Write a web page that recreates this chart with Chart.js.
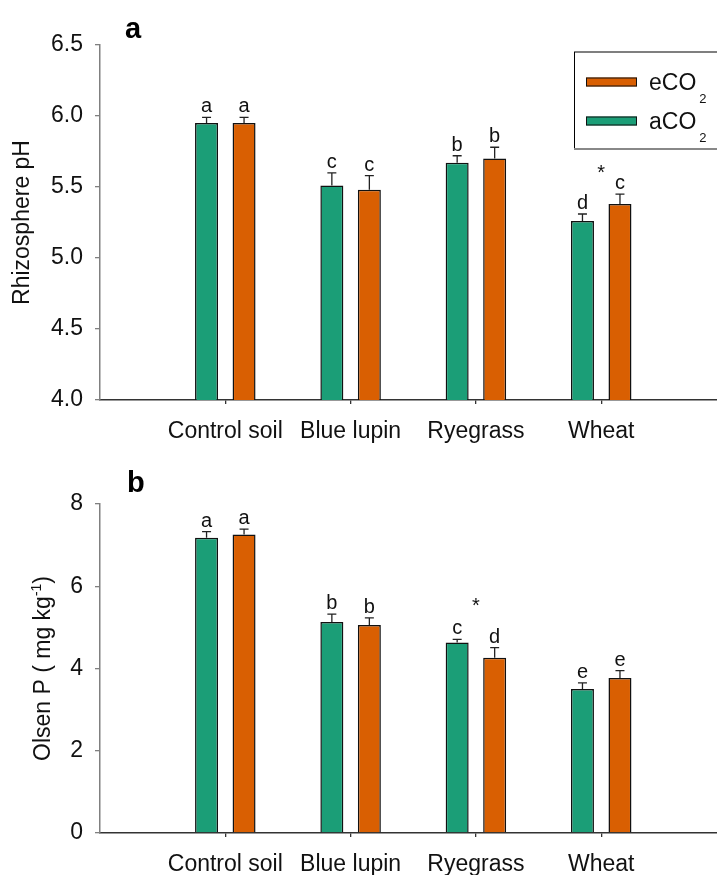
<!DOCTYPE html>
<html>
<head>
<meta charset="utf-8">
<script src="https://cdn.jsdelivr.net/npm/chart.js@4.4.1/dist/chart.umd.min.js"></script>
<style>
  html, body { margin: 0; padding: 0; background: #fff; overflow: hidden; }
  #wrap { position: relative; width: 717px; height: 875px; }
  .panel { position: absolute; left: 0; width: 717px; }
</style>
</head>
<body>
<div id="wrap">
  <div class="panel" style="top:0;height:455px"><canvas id="chartA"></canvas></div>
  <div class="panel" style="top:455px;height:420px"><canvas id="chartB"></canvas></div>
</div>
<script>
// ---- data ----
const categories = ['Control soil', 'Blue lupin', 'Ryegrass', 'Wheat'];
const seriesNames = ['aCO2', 'eCO2'];

// (a) rhizosphere pH, mean and standard error
const phAmbient = [5.95, 5.51, 5.67, 5.26];
const phAmbientErr = [0.04, 0.09, 0.05, 0.05];
const phElevated = [5.95, 5.48, 5.70, 5.38];
const phElevatedErr = [0.04, 0.10, 0.08, 0.07];
const phLettersAmbient = ['a', 'c', 'b', 'd'];
const phLettersElevated = ['a', 'c', 'b', 'c'];
const phStars = ['', '', '', '*'];
const phTicks = [4.0, 4.5, 5.0, 5.5, 6.0, 6.5];

// (b) Olsen P (mg kg-1), mean and standard error
const olsenAmbient = [7.18, 5.13, 4.63, 3.50];
const olsenAmbientErr = [0.15, 0.19, 0.08, 0.15];
const olsenElevated = [7.26, 5.06, 4.26, 3.77];
const olsenElevatedErr = [0.13, 0.17, 0.25, 0.18];
const olsenLettersAmbient = ['a', 'b', 'c', 'e'];
const olsenLettersElevated = ['a', 'b', 'd', 'e'];
const olsenStars = ['', '', '*', ''];
const olsenTicks = [0, 2, 4, 6, 8];

// ---- styling ----
const GREEN = '#1b9e77';
const ORANGE = '#d95f02';
const FONT = "'Liberation Sans', Arial, Helvetica, sans-serif";
const TEXT = '#111';
const SIZE = 23;

// error bars, significance letters and stars above each bar
const annotationPlugin = {
  id: 'errorBarsLetters',
  afterDatasetsDraw(chart) {
    const ctx = chart.ctx;
    const yScale = chart.scales.y;
    const xScale = chart.scales.x;
    const tops = categories.map(() => Infinity);
    ctx.save();
    chart.data.datasets.forEach((ds, di) => {
      const meta = chart.getDatasetMeta(di);
      meta.data.forEach((bar, i) => {
        const top = yScale.getPixelForValue(ds.data[i].y + ds.errors[i]);
        tops[i] = Math.min(tops[i], top);
        ctx.strokeStyle = '#222';
        ctx.lineWidth = 1.3;
        ctx.beginPath();
        ctx.moveTo(bar.x, bar.y);
        ctx.lineTo(bar.x, top);
        ctx.moveTo(bar.x - 4.5, top);
        ctx.lineTo(bar.x + 4.5, top);
        ctx.stroke();
        ctx.fillStyle = TEXT;
        ctx.font = `20px ${FONT}`;
        ctx.textAlign = 'center';
        ctx.textBaseline = 'alphabetic';
        ctx.fillText(ds.letters[i], bar.x, top - 5);
      });
    });
    const opts = chart.options.plugins.errorBarsLetters;
    opts.stars.forEach((s, i) => {
      if (!s) return;
      ctx.fillStyle = TEXT;
      ctx.font = `20px ${FONT}`;
      ctx.textAlign = 'center';
      ctx.textBaseline = 'middle';
      ctx.fillText(s, xScale.getPixelForValue(i + 1), tops[i] - opts.starGap);
    });
    ctx.restore();
  }
};

// bold panel letter in the upper left corner
const panelLabelPlugin = {
  id: 'panelLabel',
  afterDraw(chart) {
    const o = chart.options.plugins.panelLabel;
    const ctx = chart.ctx;
    ctx.save();
    ctx.fillStyle = '#000';
    ctx.font = `bold 29px ${FONT}`;
    ctx.textAlign = 'left';
    ctx.textBaseline = 'alphabetic';
    ctx.fillText(o.text, o.x, o.y);
    ctx.restore();
  }
};

// text with a subscript or superscript part
function drawRichText(ctx, parts, x, y) {
  let cx = x;
  parts.forEach(p => {
    ctx.font = `${p.size}px ${FONT}`;
    ctx.fillText(p.text, cx, y + (p.dy || 0));
    cx += ctx.measureText(p.text).width + (p.gap || 0);
  });
  return cx - x;
}
function measureRichText(ctx, parts) {
  let w = 0;
  parts.forEach(p => {
    ctx.font = `${p.size}px ${FONT}`;
    w += ctx.measureText(p.text).width + (p.gap || 0);
  });
  return w;
}

// boxed legend, elevated CO2 listed first
const boxLegendPlugin = {
  id: 'boxLegend',
  afterDraw(chart) {
    const o = chart.options.plugins.boxLegend;
    if (!o.show) return;
    const ctx = chart.ctx;
    ctx.save();
    ctx.fillStyle = '#fff';
    ctx.fillRect(o.left, o.top, 200, o.bottom - o.top);
    ctx.strokeStyle = '#000';
    ctx.lineWidth = 1;
    ctx.strokeRect(o.left + 0.5, o.top + 0.5, 200, o.bottom - o.top);
    ctx.strokeStyle = '#888';
    ctx.lineWidth = 2;
    ctx.beginPath();
    ctx.moveTo(o.left, o.bottom);
    ctx.lineTo(o.left + 200, o.bottom);
    ctx.stroke();
    const order = [1, 0];
    order.forEach((di, row) => {
      const ds = chart.data.datasets[di];
      const cy = o.firstRow + row * o.rowGap;
      ctx.fillStyle = ds.backgroundColor;
      ctx.fillRect(o.swatchX, cy - 4.5, o.swatchW, 9);
      ctx.strokeStyle = '#111';
      ctx.lineWidth = 1;
      ctx.strokeRect(o.swatchX + 0.5, cy - 4.5 + 0.5, o.swatchW - 1, 8);
      ctx.fillStyle = TEXT;
      ctx.textAlign = 'left';
      ctx.textBaseline = 'alphabetic';
      const name = ds.label;
      drawRichText(ctx, [
        { text: name.slice(0, -1), size: SIZE, gap: 3 },
        { text: name.slice(-1), size: 13, dy: 13 }
      ], o.textX, cy + 8);
    });
    ctx.restore();
  }
};

// rotated axis title with a superscript exponent
const richTitlePlugin = {
  id: 'richTitle',
  afterDraw(chart) {
    const o = chart.options.plugins.richTitle;
    if (!o.parts) return;
    const ctx = chart.ctx;
    const area = chart.chartArea;
    ctx.save();
    ctx.translate(o.x, (area.top + area.bottom) / 2);
    ctx.rotate(-Math.PI / 2);
    ctx.fillStyle = TEXT;
    ctx.textAlign = 'left';
    ctx.textBaseline = 'alphabetic';
    const w = measureRichText(ctx, o.parts);
    drawRichText(ctx, o.parts, -w / 2, 0);
    ctx.restore();
  }
};

function buildPanel(canvasId, p) {
  const toPoints = arr => arr.map((v, i) => ({ x: i + 1, y: v }));
  return new Chart(document.getElementById(canvasId), {
    type: 'bar',
    data: {
      datasets: [
        {
          label: seriesNames[0],
          data: toPoints(p.ambient),
          errors: p.ambientErr,
          letters: p.lettersAmbient,
          backgroundColor: GREEN,
          borderColor: '#111',
          borderWidth: 1.5
        },
        {
          label: seriesNames[1],
          data: toPoints(p.elevated),
          errors: p.elevatedErr,
          letters: p.lettersElevated,
          backgroundColor: ORANGE,
          borderColor: '#111',
          borderWidth: 1.5
        }
      ]
    },
    options: {
      responsive: true,
      maintainAspectRatio: false,
      animation: false,
      events: [],
      layout: { padding: { top: p.padTop, left: 0, right: 0, bottom: 0 } },
      datasets: { bar: { categoryPercentage: 0.5986, barPercentage: 0.613 } },
      plugins: {
        legend: { display: false },
        tooltip: { enabled: false },
        errorBarsLetters: { stars: p.stars, starGap: p.starGap },
        panelLabel: { text: p.label, x: p.labelX, y: p.labelY },
        boxLegend: p.legend || { show: false },
        richTitle: p.richTitle || {}
      },
      scales: {
        x: {
          type: 'linear',
          min: 0,
          max: 4.924,
          bounds: 'data',
          offset: false,
          afterBuildTicks: s => { s.ticks = categories.map((c, i) => ({ value: i + 1 })); },
          afterFit: s => { s.height = p.xHeight; },
          grid: { display: true, offset: false, drawOnChartArea: false, drawTicks: true, tickLength: 4, color: '#333', lineWidth: 1.3 },
          border: { display: true, color: '#333', width: 1.5 },
          ticks: {
            callback: v => categories[Math.round(v) - 1] || '',
            font: { family: FONT, size: SIZE },
            color: TEXT,
            padding: 14,
            maxRotation: 0,
            autoSkip: false
          }
        },
        y: {
          min: p.yMin,
          max: p.yMax,
          afterBuildTicks: s => { s.ticks = p.ticks.map(v => ({ value: v })); },
          afterFit: s => { s.width = 100; },
          grid: { display: true, drawOnChartArea: false, drawTicks: true, tickLength: 5, color: '#808080', lineWidth: 1.3 },
          border: { display: true, color: '#808080', width: 1.5 },
          ticks: {
            callback: v => p.fmt(v),
            font: { family: FONT, size: SIZE },
            color: TEXT,
            padding: 12
          },
          title: p.yTitle
            ? { display: true, text: p.yTitle, font: { family: FONT, size: SIZE }, color: TEXT, padding: { top: 9, bottom: 0 } }
            : { display: false }
        }
      }
    },
    plugins: [annotationPlugin, panelLabelPlugin, boxLegendPlugin, richTitlePlugin]
  });
}

buildPanel('chartA', {
  ambient: phAmbient, ambientErr: phAmbientErr,
  elevated: phElevated, elevatedErr: phElevatedErr,
  lettersAmbient: phLettersAmbient, lettersElevated: phLettersElevated,
  stars: phStars, starGap: 21,
  ticks: phTicks, yMin: 4.0, yMax: 6.5, fmt: v => v.toFixed(1),
  yTitle: 'Rhizosphere pH',
  padTop: 45, xHeight: 55,
  label: 'a', labelX: 125, labelY: 38,
  legend: {
    show: true, left: 574, top: 51.5, bottom: 149,
    swatchX: 586, swatchW: 51, textX: 649,
    firstRow: 82, rowGap: 39
  }
});

buildPanel('chartB', {
  ambient: olsenAmbient, ambientErr: olsenAmbientErr,
  elevated: olsenElevated, elevatedErr: olsenElevatedErr,
  lettersAmbient: olsenLettersAmbient, lettersElevated: olsenLettersElevated,
  stars: olsenStars, starGap: 33,
  ticks: olsenTicks, yMin: 0, yMax: 8, fmt: v => String(v),
  yTitle: null,
  padTop: 49, xHeight: 42,
  label: 'b', labelX: 127, labelY: 37,
  richTitle: {
    x: 50,
    parts: [
      { text: 'Olsen P ( mg kg', size: SIZE },
      { text: '-1', size: 14, dy: -9 },
      { text: ')', size: SIZE }
    ]
  }
});
</script>
</body>
</html>
